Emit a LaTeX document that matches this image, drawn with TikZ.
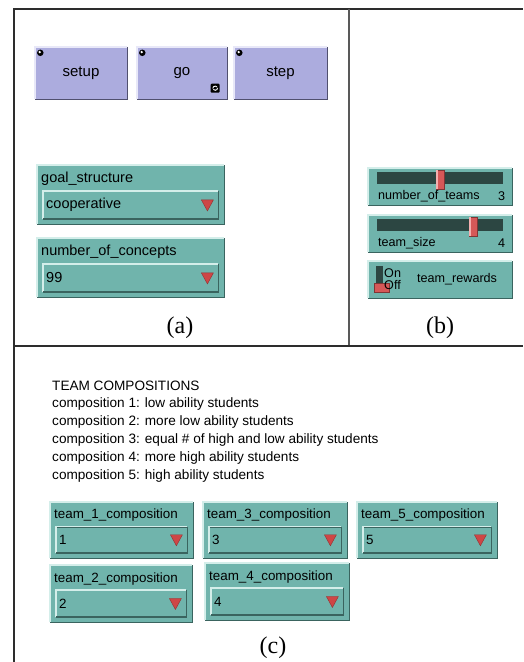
\documentclass[tikz,border=0pt]{standalone}
\usepackage{fontspec}
\setmainfont{Liberation Serif}
\newfontfamily\uifont{Liberation Sans}
\usetikzlibrary{calc,positioning}

\definecolor{btnfill}{RGB}{172,172,222}
\definecolor{btnlight}{RGB}{232,232,248}
\definecolor{btndark}{RGB}{80,80,110}
\definecolor{nlteal}{RGB}{112,180,172}
\definecolor{teallight}{RGB}{212,238,234}
\definecolor{tealdark}{RGB}{58,100,95}
\definecolor{trackdark}{RGB}{44,70,66}
\definecolor{knobred}{RGB}{214,88,88}
\definecolor{knoblight}{RGB}{244,176,176}
\definecolor{trired}{RGB}{206,70,70}
\definecolor{frameline}{RGB}{45,45,45}

% raised 3d edge round a widget node
\newcommand\raisededge[3]{%
  \draw[#2, line width=1.4pt] (#1.south west) |- (#1.north east);
  \draw[#3, line width=1.4pt] (#1.north east) |- (#1.south west);
}

% chooser: name, x, y, width, height, label, value
\newcommand\chooser[7]{%
  \node(#1)[chbox, minimum width=#4pt, minimum height=#5pt] at (#2,#3) {};
  \raisededge{#1}{teallight}{tealdark}
  \node(#1lbl)[chtext, anchor=west] at ($(#1.north west)+(4,0.24*#5)$) {#6};
  \node(#1fld)[chbox, minimum width=#4pt-12pt, minimum height=0.56*#5pt-5.5pt] at ($(#1.north west)+(6,0.44*#5)$) {};
  \raisededge{#1fld}{teallight}{tealdark}
  \node(#1val)[chtext, anchor=west] at ($(#1fld.west)+(3,0)$) {#7};
  \draw[tri] ($(#1fld.east)+(-17,-5)$) -- ++(12,0) -- ++(-6,11) -- cycle;
}

\begin{document}
\begin{tikzpicture}[x=1pt, y=-1pt]

\tikzstyle{frame}=[draw=frameline, line width=1.5pt]
\tikzstyle{btn}=[fill=btnfill, draw=btndark, minimum width=92pt, minimum height=52pt, inner sep=0pt, font=\uifont\fontsize{15}{15}\selectfont]
\tikzstyle{led}=[circle, fill=black, minimum size=6.5pt, inner sep=0pt]
\tikzstyle{chbox}=[fill=nlteal, draw=tealdark, anchor=north west, inner sep=0pt]
\tikzstyle{chtext}=[font=\uifont\fontsize{14.5}{14.5}\selectfont, inner sep=0pt]
\tikzstyle{tri}=[fill=trired, draw=trired!70!black, line width=0.4pt]
\tikzstyle{slbox}=[fill=nlteal, draw=tealdark, anchor=north west, inner sep=0pt, minimum width=144pt, minimum height=37pt]
\tikzstyle{trackbar}=[fill=trackdark, anchor=north west, inner sep=0pt, minimum width=126pt, minimum height=12pt]
\tikzstyle{knobbox}=[fill=knobred, draw=knobred!60!black, line width=0.4pt, inner sep=0pt, minimum width=8pt, minimum height=19pt]
\tikzstyle{sltext}=[font=\uifont\fontsize{12.6}{12.6}\selectfont, inner sep=0pt]
\tikzstyle{notetext}=[font=\uifont\fontsize{13.6}{13.6}\selectfont, inner sep=0pt]
\tikzstyle{caption}=[font=\fontsize{24}{24}\selectfont]

\fill[white] (0,0) rectangle (523,662);
\useasboundingbox (0,0) rectangle (523,662);

% frame
\draw[frame] (14,662) -- (14,9) -- (523,9);
\draw[frame, draw=gray!70!black] (349,9) -- (349,346);
\draw[frame] (14,346) -- (523,346);

% (a) buttons
\node(setupbtn)[btn] at (81,73) {setup};
\node(gobtn)[btn, minimum width=90pt] at (182,73) {go};
\node(stepbtn)[btn, minimum width=93pt] at (280.5,73) {step};
\foreach \b in {setupbtn,gobtn,stepbtn} {
  \raisededge{\b}{btnlight}{btndark}
  \node(led\b)[led] at ($(\b.north west)+(5.5,6)$) {};
  \fill[white] ($(led\b.center)+(-0.6,-0.8)$) circle (1.3pt);
}
\node(gorefresh)[fill=black, rounded corners=1pt, minimum size=9pt, inner sep=0pt] at ($(gobtn.south east)+(-12,-11)$) {};
\draw[white, line width=0.9pt] ($(gorefresh.center)+(-2.4,0.3)$) arc[start angle=180, end angle=40, radius=2.4pt];
\draw[white, line width=0.9pt] ($(gorefresh.center)+(2.4,-0.3)$) arc[start angle=0, end angle=-140, radius=2.4pt];

% (a) choosers
\chooser{goal}{37}{165}{187}{59}{goal\_structure}{cooperative}
\chooser{concepts}{37}{238}{187}{59}{number\_of\_concepts}{99}
\node(capa)[caption] at (180,328) {(a)};

% (b) sliders and switch
\node(teams)[slbox] at (368,168) {};
\raisededge{teams}{teallight}{tealdark}
\node(teamstrack)[trackbar] at ($(teams.north west)+(9,4)$) {};
\node(teamsknob)[knobbox] at ($(teamstrack.west)+(63,1)$) {};
\fill[knoblight] (teamsknob.north west) rectangle ($(teamsknob.south west)+(2.5,0)$);
\node(teamslbl)[sltext, anchor=west] at ($(teams.south west)+(10,-9)$) {number\_of\_teams};
\node(teamsval)[sltext, anchor=east] at ($(teams.south east)+(-7,-9)$) {3};

\node(size)[slbox] at (368,215) {};
\raisededge{size}{teallight}{tealdark}
\node(sizetrack)[trackbar] at ($(size.north west)+(9,4)$) {};
\node(sizeknob)[knobbox] at ($(sizetrack.west)+(96,1)$) {};
\fill[knoblight] (sizeknob.north west) rectangle ($(sizeknob.south west)+(2.5,0)$);
\node(sizelbl)[sltext, anchor=west] at ($(size.south west)+(10,-9)$) {team\_size};
\node(sizeval)[sltext, anchor=east] at ($(size.south east)+(-7,-9)$) {4};

\node(rewards)[slbox] at (368,261) {};
\raisededge{rewards}{teallight}{tealdark}
\node(rewardstrack)[fill=trackdark, anchor=north west, inner sep=0pt, minimum width=7pt, minimum height=25pt] at ($(rewards.north west)+(8,5)$) {};
\node(rewardsknob)[knobbox, anchor=north west, minimum width=15pt, minimum height=9pt] at ($(rewards.north west)+(6,22)$) {};
\node(rewardson)[sltext, anchor=west] at ($(rewards.north west)+(16,12)$) {On};
\node(rewardsoff)[sltext, anchor=west] at ($(rewards.north west)+(16,24)$) {Off};
\node(rewardslbl)[sltext, anchor=west] at ($(rewards.north west)+(49,18)$) {team\_rewards};
\node(capb)[caption] at (440,328) {(b)};

% (c) notes and team choosers
\foreach \txt [count=\i from 0] in {TEAM COMPOSITIONS, composition 1: low ability students, composition 2: more low ability students, composition 3: equal \# of high and low ability students, composition 4: more high ability students, composition 5: high ability students}
  \node(note\i)[notetext, anchor=base west] at (52,390+17.8*\i) {\txt};

\tikzstyle{chtext}=[font=\uifont\fontsize{13.4}{13.4}\selectfont, inner sep=0pt]
\foreach \n/\x/\y/\w/\h in {1/50/502/143/56, 3/203/502/144/56, 5/357/502/140/56, 2/50/565/142/57, 4/205/563/144/57}
  {\chooser{team\n}{\x}{\y}{\w}{\h}{team\_\n\_composition}{\n}}
\node(capc)[caption] at (273,648) {(c)};

\end{tikzpicture}
\end{document}
